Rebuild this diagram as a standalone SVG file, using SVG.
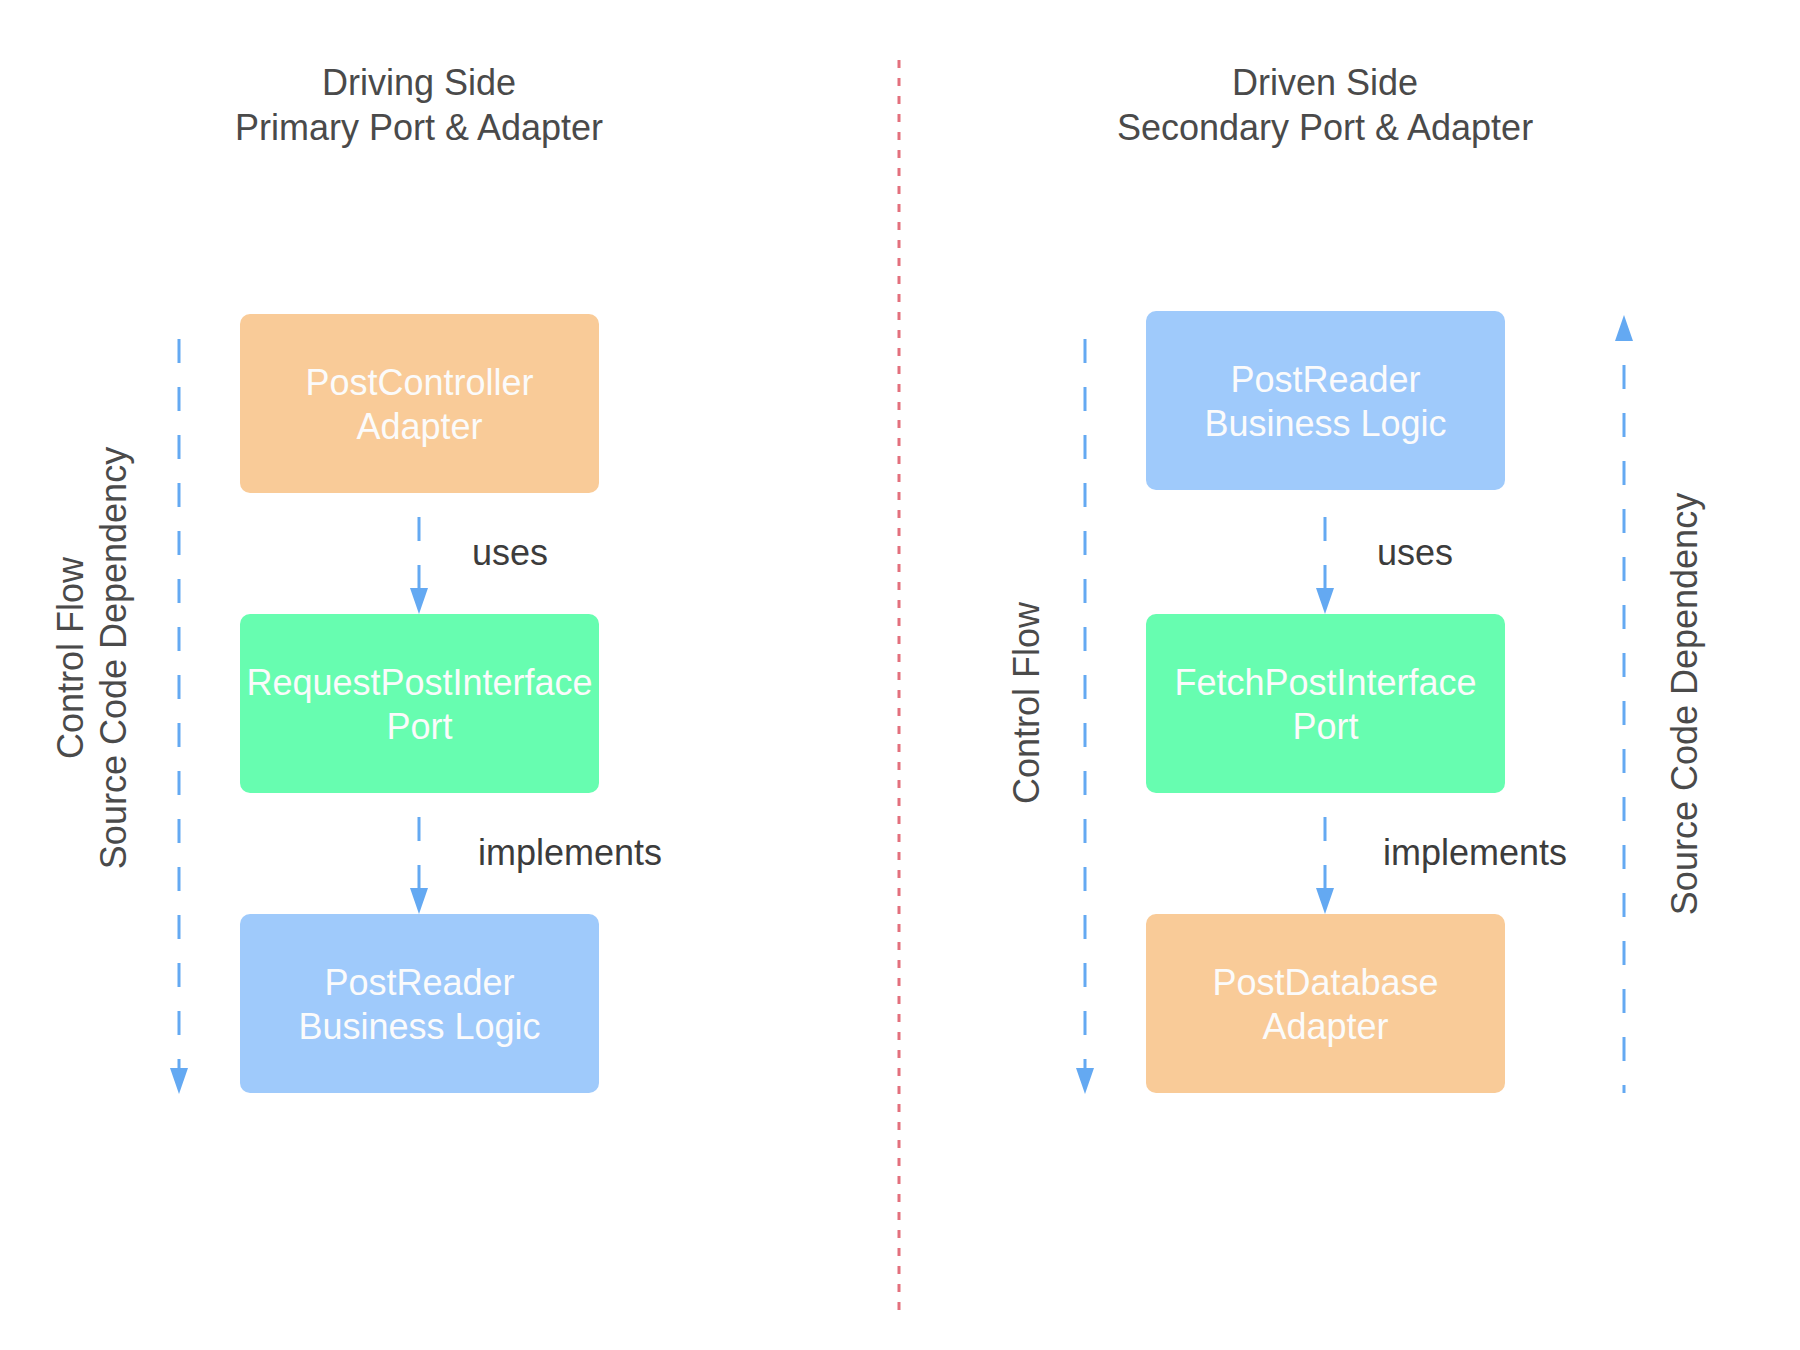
<svg xmlns="http://www.w3.org/2000/svg" width="1800" height="1350" viewBox="0 0 1800 1350">
<defs>
<marker id="arr" markerUnits="userSpaceOnUse" markerWidth="26" markerHeight="18" refX="0" refY="9" orient="auto">
<path d="M0,0 L26,9 L0,18 z" fill="#64a9f2"/>
</marker>
<style>
.title{font-family:"Liberation Sans",Arial,sans-serif;font-size:36px;fill:#4a4a4a;text-anchor:middle}
.lbl{font-family:"Liberation Sans",Arial,sans-serif;font-size:36px;fill:#3c3c3c}
.side{font-family:"Liberation Sans",Arial,sans-serif;font-size:36px;fill:#4a4a4a;text-anchor:middle}
.box{font-family:"Liberation Sans",Arial,sans-serif;font-size:36px;fill:#fbfbfb;text-anchor:middle}
.orange{fill:#f9cb98}
.green{fill:#67fdb0}
.blue{fill:#9fcafb}
.conn{stroke:#64a9f2;stroke-width:3;fill:none;stroke-dasharray:24 24}
.divider{stroke:#e3707d;stroke-width:3;fill:none;stroke-dasharray:8 10}
</style>
</defs>
<rect width="1800" height="1350" fill="#ffffff"/>

<g id="titles">
<text class="title" x="419" y="95">Driving Side</text>
<text class="title" x="419" y="140">Primary Port &amp; Adapter</text>
<text class="title" x="1325" y="95">Driven Side</text>
<text class="title" x="1325" y="140">Secondary Port &amp; Adapter</text>
</g>

<line class="divider" x1="899" y1="60" x2="899" y2="1310"/>

<g id="side-labels">
<text class="side" transform="translate(83,658) rotate(-90)">Control Flow</text>
<text class="side" transform="translate(126,658) rotate(-90)">Source Code Dependency</text>
<text class="side" transform="translate(1039,703) rotate(-90)">Control Flow</text>
<text class="side" transform="translate(1697,704) rotate(-90)">Source Code Dependency</text>
</g>

<g id="connectors">
<path class="conn" d="M179,339 L179,1068" marker-end="url(#arr)"/>
<path class="conn" d="M1085,339 L1085,1068" marker-end="url(#arr)"/>
<path class="conn" d="M1624,1093 L1624,341" style="stroke-dashoffset:16" marker-end="url(#arr)"/>
<path class="conn" d="M419,517 L419,588" marker-end="url(#arr)"/>
<path class="conn" d="M419,817 L419,888" marker-end="url(#arr)"/>
<path class="conn" d="M1325,517 L1325,588" marker-end="url(#arr)"/>
<path class="conn" d="M1325,817 L1325,888" marker-end="url(#arr)"/>
<text class="lbl" x="472" y="565">uses</text>
<text class="lbl" x="478" y="865">implements</text>
<text class="lbl" x="1377" y="565">uses</text>
<text class="lbl" x="1383" y="865">implements</text>
</g>

<g id="post-controller-adapter">
<rect class="orange" x="240" y="314" width="359" height="179" rx="10"/>
<text class="box" x="419.5" y="395">PostController</text>
<text class="box" x="419.5" y="439">Adapter</text>
</g>
<g id="request-post-interface-port">
<rect class="green" x="240" y="614" width="359" height="179" rx="10"/>
<text class="box" x="419.5" y="695">RequestPostInterface</text>
<text class="box" x="419.5" y="739">Port</text>
</g>
<g id="post-reader-left">
<rect class="blue" x="240" y="914" width="359" height="179" rx="10"/>
<text class="box" x="419.5" y="995">PostReader</text>
<text class="box" x="419.5" y="1039">Business Logic</text>
</g>

<g id="post-reader-right">
<rect class="blue" x="1146" y="311" width="359" height="179" rx="10"/>
<text class="box" x="1325.5" y="392">PostReader</text>
<text class="box" x="1325.5" y="436">Business Logic</text>
</g>
<g id="fetch-post-interface-port">
<rect class="green" x="1146" y="614" width="359" height="179" rx="10"/>
<text class="box" x="1325.5" y="695">FetchPostInterface</text>
<text class="box" x="1325.5" y="739">Port</text>
</g>
<g id="post-database-adapter">
<rect class="orange" x="1146" y="914" width="359" height="179" rx="10"/>
<text class="box" x="1325.5" y="995">PostDatabase</text>
<text class="box" x="1325.5" y="1039">Adapter</text>
</g>
</svg>
